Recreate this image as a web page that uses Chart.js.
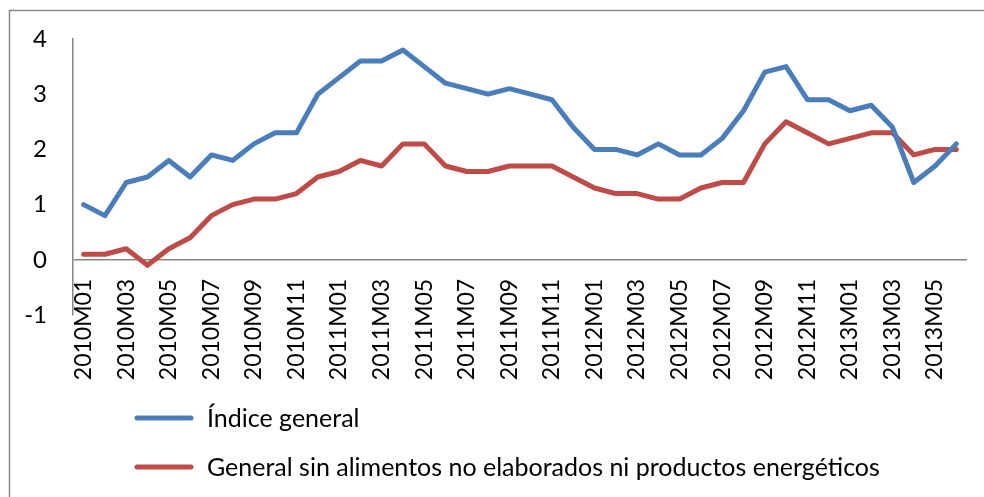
<!DOCTYPE html>
<html>
<head>
<meta charset="utf-8">
<script src="https://cdn.jsdelivr.net/npm/chart.js@4"></script>
<style>
html,body{margin:0;padding:0;background:#fff;}
#wrap{position:relative;width:984px;height:497px;}
</style>
</head>
<body>
<div id="wrap"><canvas id="c" width="984" height="497"></canvas></div>
<script>
const categories = [
 '2010M01','2010M02','2010M03','2010M04','2010M05','2010M06','2010M07','2010M08','2010M09','2010M10','2010M11','2010M12',
 '2011M01','2011M02','2011M03','2011M04','2011M05','2011M06','2011M07','2011M08','2011M09','2011M10','2011M11','2011M12',
 '2012M01','2012M02','2012M03','2012M04','2012M05','2012M06','2012M07','2012M08','2012M09','2012M10','2012M11','2012M12',
 '2013M01','2013M02','2013M03','2013M04','2013M05','2013M06'
];
const indiceGeneral = [
 1.0,0.8,1.4,1.5,1.8,1.5,1.9,1.8,2.1,2.3,2.3,3.0,
 3.3,3.6,3.6,3.8,3.5,3.2,3.1,3.0,3.1,3.0,2.9,2.4,
 2.0,2.0,1.9,2.1,1.9,1.9,2.2,2.7,3.4,3.5,2.9,2.9,
 2.7,2.8,2.4,1.4,1.7,2.1
];
const subyacente = [
 0.1,0.1,0.2,-0.1,0.2,0.4,0.8,1.0,1.1,1.1,1.2,1.5,
 1.6,1.8,1.7,2.1,2.1,1.7,1.6,1.6,1.7,1.7,1.7,1.5,
 1.3,1.2,1.2,1.1,1.1,1.3,1.4,1.4,2.1,2.5,2.3,2.1,
 2.2,2.3,2.3,1.9,2.0,2.0
];
const seriesNames = ['Índice general','General sin alimentos no elaborados ni productos energéticos'];
const yTicks = [-1,0,1,2,3,4];

const FONT = 'Lato';
const BLUE = '#4a7ebb', RED = '#be4b48', AXIS = '#868686';

const frameAndLegend = {
  id:'frameAndLegend',
  beforeDraw(chart){
    const ctx = chart.ctx;
    ctx.save();
    ctx.fillStyle='#fff';
    ctx.fillRect(0,0,chart.width,chart.height);
    ctx.strokeStyle='#898989';
    ctx.lineWidth=1.5;
    ctx.strokeRect(9.5,10.5,1200,800);
    ctx.restore();
  },
  afterDraw(chart){
    const ctx = chart.ctx;
    ctx.save();
    const ys=[418,467];
    chart.data.datasets.forEach((ds,i)=>{
      ctx.strokeStyle=ds.borderColor;
      ctx.lineWidth=5;
      ctx.lineCap='round';
      ctx.beginPath();ctx.moveTo(137,ys[i]);ctx.lineTo(191,ys[i]);ctx.stroke();
      ctx.fillStyle='#000';
      ctx.font='25px '+FONT;
      ctx.textBaseline='middle';
      ctx.textAlign='left';
      ctx.fillText(ds.label,207,ys[i]+1);
    });
    ctx.restore();
  }
};

new Chart(document.getElementById('c'),{
  type:'line',
  data:{
    labels:categories,
    datasets:[
      {label:seriesNames[0],data:indiceGeneral,borderColor:BLUE,backgroundColor:BLUE,borderWidth:5,pointRadius:0,tension:0,borderJoinStyle:'round',borderCapStyle:'round'},
      {label:seriesNames[1],data:subyacente,borderColor:RED,backgroundColor:RED,borderWidth:5,pointRadius:0,tension:0,borderJoinStyle:'round',borderCapStyle:'round'}
    ]
  },
  options:{
    responsive:false,
    animation:false,
    layout:{padding:{left:0,top:39,right:17,bottom:182}},
    plugins:{legend:{display:false},tooltip:{enabled:false}},
    scales:{
      x:{
        type:'category',
        position:{y:0},
        offset:true,
        grid:{display:false,drawTicks:false},
        border:{display:false},
        ticks:{
          autoSkip:false,maxRotation:90,minRotation:90,padding:19,
          color:'#000',font:{family:FONT,size:23},
          callback:function(v,i){return i%2===0?categories[i]:'';}
        },
        afterFit(s){s.height=140;s.paddingLeft=0;s.paddingRight=0;}
      },
      y:{
        min:-1,max:4,
        afterBuildTicks(s){s.ticks=yTicks.map(v=>({value:v}));},
        grid:{drawTicks:false,color:c=>c.tick&&c.tick.value===0?AXIS:'rgba(0,0,0,0)',lineWidth:1.5},
        border:{display:true,color:AXIS,width:1.5},
        ticks:{padding:26,color:'#000',font:{family:FONT,size:24}},
        afterFit(s){s.width=73;s.paddingTop=0;s.paddingBottom=0;}
      }
    }
  },
  plugins:[frameAndLegend]
});
</script>
</body>
</html>
